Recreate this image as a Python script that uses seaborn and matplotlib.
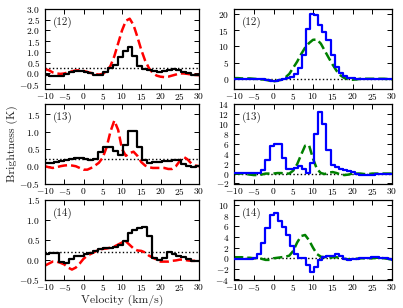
import numpy as np
import pandas as pd
import matplotlib
matplotlib.use("Agg")
import matplotlib.pyplot as plt
import seaborn as sns

# ---------------- data ----------------
# channel centres (km/s) of the black spectra (left column)
v_black = [-10.80, -9.53, -8.26, -6.99, -5.72, -4.45, -3.18, -1.91, -0.64, 0.64,
           1.91, 3.18, 4.45, 5.72, 6.99, 8.26, 9.53, 10.80, 12.07, 13.34,
           14.61, 15.88, 17.15, 18.42, 19.69, 20.96, 22.23, 23.50, 24.77, 26.04,
           27.31, 28.58, 29.85, 31.12]
black_12 = [-0.05, -0.05, -0.10, -0.13, -0.12, -0.02, 0.08, 0.13, 0.12, 0.06,
            0.00, -0.08, -0.08, 0.05, 0.25, 0.40, 0.75, 1.05, 1.25, 0.82,
            0.35, 0.22, 0.18, 0.12, 0.08, 0.12, 0.17, 0.20, 0.15, 0.05,
            0.00, -0.05, -0.05, -0.05]
black_13 = [0.03, 0.10, 0.10, 0.12, 0.15, 0.17, 0.20, 0.24, 0.24, 0.20,
            0.17, 0.20, 0.40, 0.57, 0.57, 0.45, 0.33, 0.60, 1.03, 1.03,
            0.57, 0.18, 0.10, 0.13, 0.13, 0.15, 0.15, 0.17, 0.18, 0.05,
            0.00, -0.02, 0.00, 0.00]
black_14 = [0.12, 0.15, 0.17, 0.17, -0.05, -0.08, 0.02, 0.10, 0.10, 0.13,
            0.17, 0.22, 0.27, 0.28, 0.30, 0.33, 0.38, 0.48, 0.68, 0.75,
            0.80, 0.83, 0.60, 0.03, -0.02, 0.05, 0.18, 0.15, 0.10, 0.07,
            0.02, -0.03, -0.03, 0.00]

# red dashed curves (left column), sampled every 1 km/s
v_red = list(range(-10, 31))
red_12 = [0.20, 0.15, 0.05, 0.00, -0.02, 0.00, 0.05, 0.10, 0.14, 0.15,
          0.12, 0.07, 0.02, -0.03, -0.05, -0.02, 0.10, 0.35, 0.80, 1.40,
          2.00, 2.45, 2.55, 2.25, 1.70, 1.10, 0.60, 0.25, 0.02, -0.10,
          -0.15, -0.17, -0.15, -0.10, -0.05, 0.00, 0.00, -0.02, -0.05, -0.07,
          -0.08]
red_13 = [0.00, -0.03, -0.05, -0.03, 0.00, 0.02, 0.03, 0.02, 0.00, -0.05,
          -0.10, -0.10, -0.05, 0.02, 0.10, 0.25, 0.55, 1.00, 1.32, 1.05,
          0.50, 0.30, 0.38, 0.42, 0.30, 0.12, 0.02, -0.03, -0.05, -0.05,
          -0.05, -0.05, -0.08, -0.08, 0.00, 0.15, 0.27, 0.20, 0.08, 0.02,
          0.00]
red_14 = [-0.15, -0.10, -0.05, -0.05, -0.08, -0.12, -0.20, -0.25, -0.20, -0.10,
          0.02, 0.10, 0.15, 0.20, 0.25, 0.27, 0.28, 0.30, 0.33, 0.38,
          0.43, 0.46, 0.37, 0.28, 0.23, 0.22, 0.18, 0.10, 0.05, 0.00,
          -0.05, -0.05, -0.05, -0.03, -0.02, 0.00, 0.00, -0.02, -0.03, -0.03,
          -0.03]

# channel centres (km/s) of the blue spectra (right column)
v_blue = [-10.79, -9.76, -8.73, -7.70, -6.67, -5.64, -4.61, -3.58, -2.55, -1.52,
          -0.49, 0.54, 1.57, 2.60, 3.63, 4.66, 5.69, 6.72, 7.75, 8.78,
          9.81, 10.84, 11.87, 12.90, 13.93, 14.96, 15.99, 17.02, 18.05, 19.08,
          20.11, 21.14, 22.17, 23.20, 24.23, 25.26, 26.29, 27.32, 28.35, 29.38,
          30.41]
blue_12 = [0.0, 0.0, 0.0, 0.0, 0.0, 0.0, 0.0, 0.0, -0.1, -0.3,
           -0.6, -0.8, -0.5, -0.2, 0.1, 0.5, 1.5, 3.4, 7.2, 15.2,
           20.0, 19.6, 16.5, 14.5, 12.0, 7.2, 3.5, 1.8, 0.8, 0.3,
           0.1, 0.0, 0.0, 0.0, 0.0, 0.0, 0.0, 0.0, 0.0, 0.0,
           0.0]
blue_13 = [0.1, 0.1, 0.1, 0.1, 0.1, 0.1, 0.1, 0.1, 0.8, 2.8,
           5.5, 5.9, 5.9, 3.2, 1.0, 1.0, 1.2, 1.5, 0.9, 0.1,
           2.2, 7.9, 12.3, 10.0, 4.7, 1.8, 1.3, 1.0, 0.8, 0.5,
           0.3, 0.0, -0.3, -0.3, -0.3, -0.2, 0.0, 0.0, 0.0, 0.0,
           0.0]
blue_14 = [-0.1, -0.1, -0.1, -0.1, -0.1, -0.1, 0.0, 0.8, 2.9, 5.7,
           8.2, 8.5, 7.1, 5.9, 4.4, 2.3, 0.9, 0.0, 0.0, -1.2,
           -2.5, -1.7, -0.3, 0.3, 0.5, 0.5, 0.8, 0.4, -0.2, -0.3,
           -0.2, -0.2, 0.0, 0.0, 0.1, 0.2, 0.2, 0.1, 0.0, -0.1,
           -0.3]

# green dashed curves (right column), sampled every 1 km/s
v_green = list(range(-10, 31))
green_12 = [0.2, 0.2, 0.1, 0.1, 0.1, 0.0, -0.1, -0.2, -0.3, -0.6,
            -0.8, -0.6, -0.3, 0.4, 1.5, 3.4, 5.3, 7.6, 9.6, 11.0,
            12.0, 12.1, 10.8, 8.6, 6.4, 4.3, 2.4, 1.0, 0.2, -0.2,
            -0.3, -0.2, 0.0, 0.0, 0.0, 0.0, 0.0, 0.0, 0.0, -0.1,
            -0.3]
green_13 = [0.0, 0.0, 0.0, -0.1, -0.2, -0.3, -0.3, -0.2, 0.0, 0.0,
            0.0, 0.1, 0.1, 0.0, 0.0, 0.6, 1.9, 3.8, 5.6, 5.7,
            3.0, 0.9, 0.1, -0.1, 0.2, 0.3, 0.1, -0.2, -0.3, -0.2,
            0.0, 0.0, 0.0, -0.1, -0.1, 0.0, 0.0, 0.0, 0.0, 0.0,
            0.0]
green_14 = [0.2, 0.2, 0.2, 0.1, 0.1, 0.0, 0.0, -0.1, -0.3, -0.3,
            0.0, 0.1, 0.2, 0.3, 0.5, 1.4, 3.0, 4.2, 4.4, 3.4,
            2.0, 0.8, 0.3, 0.2, 0.0, 0.2, 0.2, 0.0, -0.1, -0.2,
            -0.2, -0.1, 0.0, 0.0, 0.0, 0.0, 0.1, 0.1, 0.0, -0.1,
            -0.3]

labels = ["(12)", "(13)", "(14)"]
noise_left = [0.25, 0.2, 0.2]
noise_right = [0.0, 0.0, 0.0]

left_ylims = [(-0.7, 3.0), (-0.5, 1.8), (-0.5, 1.5)]
left_yticks = [[-0.5, 0.0, 0.5, 1.0, 1.5, 2.0, 2.5, 3.0],
               [-0.5, 0.0, 0.5, 1.0, 1.5],
               [-0.5, 0.0, 0.5, 1.0, 1.5]]
right_ylims = [(-3, 21.5), (-2, 14), (-4, 11)]
right_yticks = [[0, 5, 10, 15, 20],
                [-2, 0, 2, 4, 6, 8, 10, 12, 14],
                [-4, -2, 0, 2, 4, 6, 8, 10]]
xticks = [-10, -5, 0, 5, 10, 15, 20, 25, 30]

# ---------------- style ----------------
sns.set_style("ticks")
plt.rcParams["font.family"] = ["cmr10", "DejaVu Serif"]
plt.rcParams["mathtext.fontset"] = "cm"
plt.rcParams["axes.formatter.use_mathtext"] = True
plt.rcParams["axes.unicode_minus"] = True

fig = plt.figure(figsize=(4.03, 3.08), dpi=100)

tops_px = [9, 104, 200]
h_px = 79.5
H, W = 308.0, 403.0

black_sets = [black_12, black_13, black_14]
red_sets = [red_12, red_13, red_14]
blue_sets = [blue_12, blue_13, blue_14]
green_sets = [green_12, green_13, green_14]

TICK_FS = 6.8


def style_axis(ax, ylim, yticks):
    ax.set_xlim(-10, 30)
    ax.set_ylim(*ylim)
    ax.set_xticks(xticks)
    ax.set_yticks(yticks)
    ax.tick_params(direction="in", top=True, right=True, length=3.5,
                   width=0.7, labelsize=TICK_FS, colors="black")
    ax.tick_params(axis="x", pad=2)
    ax.tick_params(axis="y", pad=3.5)
    for s in ax.spines.values():
        s.set_linewidth(0.9)
        s.set_color("black")
    ax.set_xlabel("")
    ax.set_ylabel("")


for i in range(3):
    bottom = 1 - (tops_px[i] + h_px) / H
    axl = fig.add_axes([45 / W, bottom, 154 / W, h_px / H])
    axr = fig.add_axes([234 / W, bottom, 158 / W, h_px / H])

    dfb = pd.DataFrame({"v": v_black, "T": black_sets[i]})
    dfr = pd.DataFrame({"v": v_red, "T": red_sets[i]})
    axl.axhline(noise_left[i], color="black", ls=":", lw=1.0, zorder=1)
    sns.lineplot(data=dfb, x="v", y="T", ax=axl, color="black", lw=1.6,
                 drawstyle="steps-mid", estimator=None, zorder=3)
    sns.lineplot(data=dfr, x="v", y="T", ax=axl, color="#ff0000", lw=1.8,
                 linestyle="--", estimator=None, zorder=2)
    style_axis(axl, left_ylims[i], left_yticks[i])
    axl.text(0.05, 0.83, labels[i], transform=axl.transAxes, fontsize=8,
             ha="left", va="center")

    dfbl = pd.DataFrame({"v": v_blue, "T": blue_sets[i]})
    dfg = pd.DataFrame({"v": v_green, "T": green_sets[i]})
    axr.axhline(noise_right[i], color="black", ls=":", lw=1.0, zorder=1)
    sns.lineplot(data=dfbl, x="v", y="T", ax=axr, color="#0000ff", lw=1.6,
                 drawstyle="steps-mid", estimator=None, zorder=3)
    sns.lineplot(data=dfg, x="v", y="T", ax=axr, color="#008000", lw=1.8,
                 linestyle="--", estimator=None, zorder=2)
    style_axis(axr, right_ylims[i], right_yticks[i])
    axr.text(0.05, 0.83, labels[i], transform=axr.transAxes, fontsize=8,
             ha="left", va="center")

    if i == 1:
        axl.set_ylabel("Brightness (K)", fontsize=8.5, labelpad=1)
    if i == 2:
        axl.set_xlabel("Velocity (km/s)", fontsize=8.5, labelpad=1)

fig.savefig("out.png", dpi=100)
